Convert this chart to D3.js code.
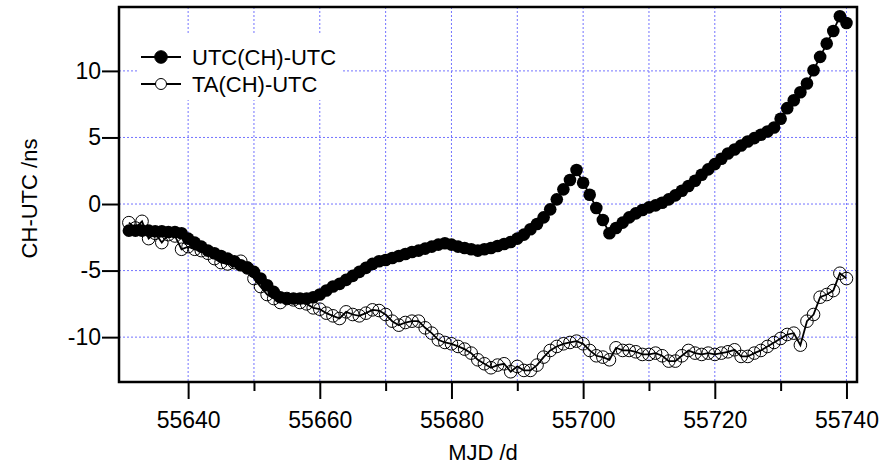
<!DOCTYPE html>
<html>
<head>
<meta charset="utf-8">
<script src="https://cdn.jsdelivr.net/npm/d3@7"></script>
<style>
  body { margin: 0; background: #fff; }
  svg { display: block; font-family: "Liberation Sans", Arial, sans-serif; }
</style>
</head>
<body>
<div id="chart"></div>
<script>
// daily points, MJD 55631 .. 55740
const mjd = d3.range(55631, 55741);

const utcCH = [
  -2.0, -2.0, -2.0, -2.0, -2.05, -2.05, -2.1, -2.1, -2.2, -2.6,
  -2.9, -3.2, -3.5, -3.7, -3.9, -4.1, -4.3, -4.6, -4.8, -5.1,
  -5.6, -6.1, -6.6, -7.0, -7.1, -7.1, -7.1, -7.1, -7.0, -6.8,
  -6.5, -6.2, -6.0, -5.7, -5.4, -5.1, -4.8, -4.5, -4.3, -4.2,
  -4.05, -3.9, -3.75, -3.6, -3.5, -3.35, -3.2, -3.05, -2.95, -3.05,
  -3.2, -3.3, -3.4, -3.5, -3.4, -3.3, -3.15, -3.0, -2.85, -2.6,
  -2.3, -1.9, -1.5, -1.0, -0.4, 0.35, 1.1, 1.8, 2.55, 1.6,
  0.7, -0.3, -1.2, -2.2, -1.8, -1.4, -1.0, -0.7, -0.45, -0.25,
  -0.1, 0.1, 0.35, 0.65, 1.0, 1.35, 1.75, 2.2, 2.6, 3.0,
  3.4, 3.8, 4.1, 4.4, 4.7, 4.95, 5.2, 5.45, 5.75, 6.4,
  7.2, 7.8, 8.4, 9.05, 10.05, 11.05, 12.05, 13.0, 14.1, 13.6
];

const taCH = [
  -1.4, -1.8, -1.3, -2.6, -2.2, -2.9, -2.3, -2.4, -3.4, -3.2,
  -3.4, -3.5, -3.7, -4.1, -4.4, -4.5, -4.4, -4.3, -4.8, -5.6,
  -6.2, -6.8, -7.1, -7.4, -7.1, -7.2, -7.4, -7.5, -7.8, -7.9,
  -8.2, -8.4, -8.6, -8.1, -8.3, -8.4, -8.2, -7.95, -8.0, -8.3,
  -8.8, -9.1, -8.9, -8.8, -8.8, -9.3, -9.7, -10.2, -10.4, -10.5,
  -10.7, -10.9, -11.2, -11.7, -12.0, -12.3, -12.1, -12.0, -12.6, -12.2,
  -12.5, -12.5, -12.1, -11.5, -11.0, -10.7, -10.5, -10.4, -10.3, -10.5,
  -11.0, -11.4, -11.5, -11.7, -10.8, -11.0, -11.0, -11.1, -11.3, -11.3,
  -11.2, -11.4, -11.8, -11.8, -11.4, -11.0, -11.2, -11.3, -11.2, -11.3,
  -11.2, -11.1, -10.95, -11.45, -11.45, -11.2, -11.0, -10.7, -10.4, -10.1,
  -9.8, -9.7, -10.6, -8.8, -8.3, -7.0, -6.8, -6.5, -5.2, -5.6
];

const xMajor = [55640, 55660, 55680, 55700, 55720, 55740];
const xMinor = [55650, 55670, 55690, 55710, 55730];
const yTicks = [-10, -5, 0, 5, 10];
const seriesNames = ["UTC(CH)-UTC", "TA(CH)-UTC"];

const W = 880, H = 464;
const margin = { top: 7, right: 23, bottom: 82, left: 119 };
const width = W - margin.left - margin.right;
const height = H - margin.top - margin.bottom;

const svg = d3.select("#chart").append("svg")
  .attr("width", W)
  .attr("height", H);

const g = svg.append("g")
  .attr("transform", "translate(" + margin.left + "," + margin.top + ")");

const x = d3.scaleLinear().domain([55629.5, 55741.6]).range([0, width]);
const y = d3.scaleLinear().domain([-13.37, 14.8]).range([height, 0]);

const gridColor = "#7373ff";

// grid
g.append("g")
  .selectAll("line")
  .data(xMajor.concat(xMinor))
  .join("line")
  .attr("x1", d => x(d)).attr("x2", d => x(d))
  .attr("y1", 0).attr("y2", height)
  .attr("stroke", gridColor)
  .attr("stroke-width", 1)
  .attr("stroke-dasharray", "2,2");

g.append("g")
  .selectAll("line")
  .data(yTicks)
  .join("line")
  .attr("x1", 0).attr("x2", width)
  .attr("y1", d => y(d)).attr("y2", d => y(d))
  .attr("stroke", gridColor)
  .attr("stroke-width", 1)
  .attr("stroke-dasharray", "2,2");

const ta = mjd.map((d, i) => ({ d: d, v: taCH[i] }));
const utc = mjd.map((d, i) => ({ d: d, v: utcCH[i] }));

const line = d3.line().x(p => x(p.d)).y(p => y(p.v));

// TA(CH)-UTC, open circles
g.append("path")
  .datum(ta)
  .attr("fill", "none")
  .attr("stroke", "#000")
  .attr("stroke-width", 1.8)
  .attr("d", line);

g.append("g")
  .selectAll("circle")
  .data(ta)
  .join("circle")
  .attr("cx", p => x(p.d))
  .attr("cy", p => y(p.v))
  .attr("r", 6.3)
  .attr("fill", "none")
  .attr("stroke", "#000")
  .attr("stroke-width", 1);

// UTC(CH)-UTC, filled circles
g.append("path")
  .datum(utc)
  .attr("fill", "none")
  .attr("stroke", "#000")
  .attr("stroke-width", 1.8)
  .attr("d", line);

g.append("g")
  .selectAll("circle")
  .data(utc)
  .join("circle")
  .attr("cx", p => x(p.d))
  .attr("cy", p => y(p.v))
  .attr("r", 6.3)
  .attr("fill", "#000");

// legend
const lg = svg.append("g");
lg.append("rect")
  .attr("x", 137).attr("y", 33)
  .attr("width", 205).attr("height", 67)
  .attr("fill", "#fff");

seriesNames.forEach((name, i) => {
  const ly = 57 + i * 27;
  lg.append("line")
    .attr("x1", 141).attr("x2", 181)
    .attr("y1", ly).attr("y2", ly)
    .attr("stroke", "#000").attr("stroke-width", 1.8);
  lg.append("circle")
    .attr("cx", 161).attr("cy", ly)
    .attr("r", i === 0 ? 6.3 : 5.5)
    .attr("fill", i === 0 ? "#000" : "#fff")
    .attr("stroke", "#000").attr("stroke-width", 1);
  lg.append("text")
    .attr("x", 192).attr("y", ly)
    .attr("dy", "0.36em")
    .attr("font-size", 22)
    .text(name);
});

// axes
g.append("g")
  .attr("transform", "translate(0," + height + ")")
  .call(d3.axisBottom(x).tickValues(xMajor).tickSize(17).tickPadding(13).tickFormat(d => String(d)))
  .call(a => a.select(".domain").remove())
  .call(a => a.selectAll("line").attr("stroke-width", 2))
  .call(a => a.selectAll("text").attr("font-size", 23).attr("fill", "#000"));

g.append("g")
  .attr("transform", "translate(0," + height + ")")
  .call(d3.axisBottom(x).tickValues(xMinor).tickSize(9).tickFormat(""))
  .call(a => a.select(".domain").remove())
  .call(a => a.selectAll("line").attr("stroke-width", 2));

g.append("g")
  .call(d3.axisLeft(y).tickValues(yTicks).tickSize(17).tickPadding(1).tickFormat(d => String(d)))
  .call(a => a.select(".domain").remove())
  .call(a => a.selectAll("line").attr("stroke-width", 2))
  .call(a => a.selectAll("text").attr("font-size", 23).attr("fill", "#000"));

// frame
g.append("rect")
  .attr("width", width)
  .attr("height", height)
  .attr("fill", "none")
  .attr("stroke", "#000")
  .attr("stroke-width", 2.5);

// axis titles
svg.append("text")
  .attr("x", margin.left + width / 2 - 5)
  .attr("y", 460)
  .attr("text-anchor", "middle")
  .attr("font-size", 22)
  .text("MJD /d");

svg.append("text")
  .attr("transform", "translate(37," + (margin.top + height / 2 + 4) + ") rotate(-90)")
  .attr("text-anchor", "middle")
  .attr("font-size", 22)
  .text("CH-UTC /ns");
</script>
</body>
</html>
